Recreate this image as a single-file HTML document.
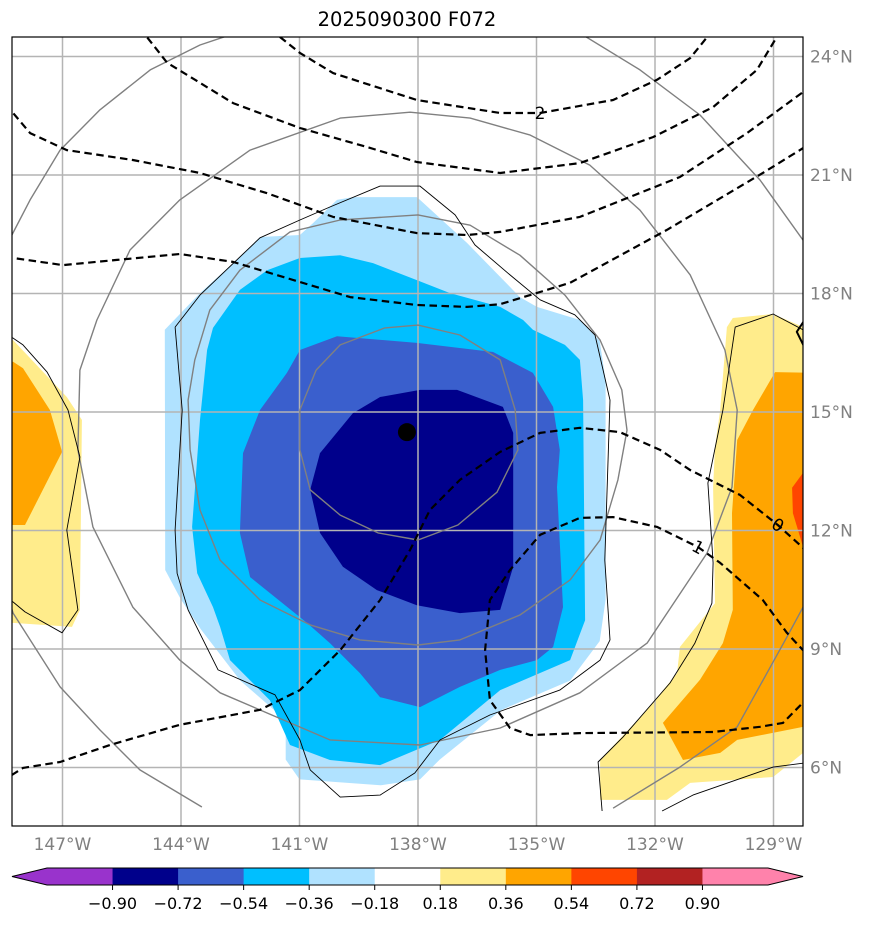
<!DOCTYPE html>
<html><head><meta charset="utf-8"><title>2025090300 F072</title>
<style>
html,body{margin:0;padding:0;background:#fff;}
body{width:873px;height:924px;overflow:hidden;font-family:"Liberation Sans","DejaVu Sans",sans-serif;}
svg text{font-family:"DejaVu Sans","Liberation Sans",sans-serif;}
</style></head>
<body>
<svg id="chart" width="873" height="924" viewBox="0 0 873 924" xmlns="http://www.w3.org/2000/svg">
<defs><clipPath id="mapclip"><rect x="12" y="37" width="791" height="789"/></clipPath></defs>
<text x="407" y="26" text-anchor="middle" font-size="19.5" fill="#000">2025090300 F072</text>
<g id="mapg" clip-path="url(#mapclip)"></g>
<rect x="12" y="37" width="791" height="789" fill="none" stroke="#000" stroke-width="1.2"/>
<g id="axes"></g>
<g id="cbar"></g>
</svg>
<script>
// ---- axis ticks ----
const lonTicks = [-147,-144,-141,-138,-135,-132,-129];
const lonTickLabels = ["147°W","144°W","141°W","138°W","135°W","132°W","129°W"];
const latTicks = [6,9,12,15,18,21,24];
const latTickLabels = ["6°N","9°N","12°N","15°N","18°N","21°N","24°N"];

// ---- filled regions (lon,lat pairs) ----
const fillLightBlue = [[-144.41,17.08],[-143.52,18.01],[-142.68,18.77],[-142.0,19.43],[-140.99,19.48],[-140.66,19.78],[-140.05,20.37],[-139.65,20.44],[-138.03,20.44],[-137.95,20.37],[-136.76,19.28],[-135.92,18.42],[-135.42,17.91],[-134.99,17.66],[-133.9,17.33],[-133.4,16.8],[-133.25,15.8],[-133.25,10.25],[-133.4,9.2],[-134.15,8.2],[-135.9,7.45],[-137.45,6.2],[-137.95,5.7],[-138.95,5.55],[-141.0,5.7],[-141.35,6.2],[-141.35,7.2],[-142.5,8.2],[-143.5,9.5],[-144.0,10.25],[-144.4,11.0]];
const fillDeepSky = [[-143.19,17.13],[-142.51,18.09],[-141.82,18.59],[-140.99,18.9],[-139.97,18.97],[-139.14,18.77],[-138.03,18.34],[-137.19,18.01],[-135.92,17.66],[-135.34,17.33],[-135.09,17.08],[-134.28,16.7],[-133.9,16.32],[-133.82,15.3],[-133.77,9.73],[-134.15,8.72],[-135.92,7.96],[-137.44,6.7],[-138.96,6.06],[-140.23,6.19],[-141.24,6.57],[-141.75,7.7],[-142.76,8.72],[-143.01,9.56],[-143.19,10.06],[-143.59,10.92],[-143.72,12.09],[-143.52,14.8],[-143.34,16.57]];
const fillRoyal = [[-140.99,16.57],[-140.05,16.92],[-138.03,16.75],[-136.1,16.52],[-135.09,15.99],[-134.58,15.13],[-134.41,14.04],[-134.48,13.1],[-134.33,10.06],[-134.58,9.05],[-134.99,8.72],[-135.92,8.47],[-136.94,8.04],[-137.95,7.53],[-138.96,7.78],[-139.47,8.39],[-140.23,9.15],[-140.81,9.66],[-142.25,10.82],[-142.51,11.94],[-142.43,13.96],[-142.0,15.05],[-141.32,15.99]];
const fillNavy = [[-137.95,15.56],[-137.01,15.56],[-135.85,15.13],[-135.59,14.47],[-135.59,11.08],[-135.92,9.99],[-136.94,9.91],[-138.03,10.11],[-139.04,10.49],[-139.9,11.08],[-140.48,11.94],[-140.73,13.03],[-140.48,13.96],[-139.65,14.97],[-138.96,15.38]];
const fillKhakiRight = [[-130.18,17.15],[-130.03,17.38],[-129.01,17.48],[-127.9,17.0],[-127.9,6.3],[-128.25,6.37],[-129.01,5.76],[-131.11,5.61],[-131.7,5.18],[-133.39,5.18],[-133.39,6.19],[-132.2,7.46],[-131.44,8.39],[-131.37,9.05],[-130.48,10.16],[-130.53,13.1],[-130.48,14.11],[-130.35,15.05]];
const fillOrangeRight = [[-128.96,16.01],[-127.9,15.99],[-127.9,7.1],[-128.25,7.03],[-129.92,6.7],[-130.35,6.37],[-131.29,6.19],[-131.8,7.13],[-130.86,8.22],[-130.28,9.15],[-130.03,9.99],[-130.05,12.44],[-129.92,14.29],[-129.52,15.05]];
const fillRedRight = [[-127.9,13.5],[-128.25,13.46],[-128.53,13.08],[-128.51,12.44],[-128.25,11.58],[-127.9,11.5]];
const fillKhakiLeft = [[-148.6,16.9],[-148.25,16.82],[-146.89,15.38],[-146.51,14.8],[-146.56,9.99],[-146.76,9.56],[-148.25,9.66],[-148.6,9.66]];
const fillOrangeLeft = [[-148.6,16.27],[-148.25,16.27],[-148.0,16.11],[-147.32,15.05],[-147.01,13.99],[-147.95,12.14],[-148.6,12.14]];

// ---- solid gray contours ----
const grayRing1 = [[-140.58,16.06],[-139.97,16.7],[-138.84,17.13],[-138,17.2],[-136.94,16.95],[-135.92,16.32],[-135.54,15.05],[-135.47,14.04],[-136.0,12.97],[-136.99,12.14],[-138,11.76],[-139.01,11.94],[-139.97,12.39],[-140.73,13.03],[-140.99,14.04],[-140.99,15.05],[-140.58,16.06]];
const grayRing2 = [[-143.77,14.04],[-143.82,15.3],[-143.65,16.32],[-143.27,17.58],[-142.51,18.59],[-141.24,19.56],[-139.97,19.86],[-138,19.99],[-136.68,19.73],[-135.42,18.97],[-134.28,17.96],[-133.39,16.82],[-132.84,15.56],[-132.71,14.54],[-132.94,13.28],[-133.39,11.76],[-134.15,10.75],[-135.42,9.86],[-136.94,9.23],[-138,9.1],[-139.47,9.23],[-140.73,9.61],[-142.0,10.24],[-143.01,11.25],[-143.52,12.52],[-143.77,14.04]];
const grayRing3 = [[-146.13,17.33],[-145.29,19.1],[-144.03,20.37],[-142.25,21.63],[-139.97,22.44],[-138.2,22.59],[-136.68,22.44],[-135.16,22.01],[-133.65,21.25],[-132.38,20.11],[-131.11,18.47],[-130.23,16.57],[-129.92,15.05],[-130.05,13.1],[-130.68,11.43],[-132.2,9.15],[-133.9,7.89],[-135.92,7.0],[-137.95,6.57],[-140.23,6.7],[-143.01,7.89],[-144.03,8.72],[-145.22,10.06],[-146.23,12.09],[-146.61,14.04],[-146.56,16.06],[-146.13,17.33]];
const grayRing4 = [[-143.47,5.0],[-145.04,5.94],[-146.05,6.95],[-147.06,8.04],[-148.25,9.91],[-148.84,11.76],[-149.09,15.3],[-148.71,18.09],[-148.28,19.48],[-147.82,20.37],[-147.06,21.63],[-146.05,22.65],[-144.78,23.66],[-143.52,24.29],[-142.0,24.8],[-138,25.18],[-134.03,24.67],[-132.38,23.66],[-130.86,22.52],[-129.34,20.87],[-128.25,19.35],[-127.57,16.57],[-127.44,13.53],[-128.25,10.06],[-128.66,9.3],[-129.92,7.03],[-131.37,6.01],[-133.06,4.97]];

// ---- thin black contours ----
const blackMain = [[-144.15,17.15],[-143.52,17.96],[-142.0,19.41],[-140.99,19.86],[-140.23,20.19],[-138.96,20.72],[-137.95,20.72],[-137.06,19.99],[-136.56,19.23],[-135.67,18.47],[-134.91,17.84],[-134.03,17.46],[-133.52,16.95],[-133.14,15.3],[-133.27,11.25],[-133.14,9.23],[-133.39,8.72],[-134.41,7.96],[-136.18,7.33],[-137.44,6.7],[-138.08,5.86],[-138.96,5.3],[-139.97,5.25],[-140.73,5.94],[-140.99,6.7],[-141.62,7.84],[-143.06,8.47],[-143.82,9.99],[-144.1,10.92],[-144.15,12.01],[-143.97,15.05],[-144.15,17.15]];
const blackRight = [[-127.9,17.2],[-128.25,17.08],[-129.01,17.48],[-129.97,17.15],[-130.28,15.05],[-130.66,13.2],[-130.53,11.18],[-130.56,10.16],[-130.99,9.15],[-131.62,8.14],[-132.81,6.77],[-133.44,6.14],[-133.34,4.9]];
const blackRightBottom = [[-131.82,4.9],[-131.04,5.3],[-129.01,6.01],[-128.25,6.11],[-127.9,6.15]];
const blackLeft = [[-148.6,17.0],[-148.25,16.87],[-148.0,16.7],[-147.39,16.01],[-146.86,15.05],[-146.56,13.86],[-146.89,12.01],[-146.61,9.99],[-147.01,9.41],[-147.95,9.94],[-148.25,10.19],[-148.6,10.4]];
const blackThick = [[-128.1,17.5],[-128.41,17.03],[-128.1,16.4]];

// ---- dashed contours ----
const dash1 = [[-141.7,24.72],[-141.49,24.49],[-140.99,24.09],[-140.15,23.58],[-138.03,22.9],[-135.92,22.57],[-134.91,22.57],[-133.06,22.9],[-131.95,23.41],[-131.11,23.96],[-130.68,24.49],[-130.56,24.72]];
const dash2 = [[-145.04,24.72],[-144.35,23.84],[-142.68,22.82],[-140.99,22.19],[-139.29,21.71],[-138.03,21.33],[-135.92,21.05],[-133.9,21.3],[-132.05,21.96],[-130.53,22.72],[-129.42,23.66],[-128.78,24.72]];
const dash3 = [[-148.46,22.77],[-148.25,22.57],[-147.82,22.06],[-146.89,21.63],[-145.22,21.38],[-143.52,21.05],[-141.82,20.54],[-140.15,19.94],[-138.03,19.53],[-136.76,19.48],[-135.92,19.56],[-133.9,19.94],[-131.37,20.95],[-129.67,22.06],[-128.25,23.1],[-127.95,23.3]];
const dash4 = [[-148.46,18.92],[-148.25,18.9],[-146.99,18.72],[-145.62,18.85],[-144.03,19.0],[-142.68,18.8],[-140.99,18.29],[-139.72,17.91],[-138.03,17.71],[-136.76,17.66],[-135.92,17.73],[-134.15,18.27],[-131.7,19.61],[-129.27,21.05],[-128.25,21.68],[-127.95,21.86]];
const dash5 = [[-148.58,5.73],[-148.28,5.81],[-148.0,5.99],[-147.06,6.14],[-145.8,6.57],[-144.03,7.08],[-142.0,7.46],[-140.99,7.96],[-139.97,8.97],[-138.96,10.24],[-138.2,11.51],[-137.7,12.52],[-136.94,13.28],[-135.92,13.99],[-134.91,14.47],[-133.9,14.6],[-132.89,14.49],[-131.87,14.04],[-131.11,13.53],[-129.85,12.9],[-128.89,12.14],[-128.25,11.56],[-127.95,11.35]];
const dash6 = [[-128.0,8.7],[-128.66,9.41],[-129.27,10.24],[-130.35,11.18],[-130.91,11.58],[-131.95,12.09],[-133.06,12.34],[-133.9,12.32],[-134.91,11.89],[-135.67,11.0],[-136.18,10.24],[-136.3,8.97],[-136.18,7.71],[-135.67,7.0],[-135.16,6.82],[-133.9,6.87],[-130.53,6.9],[-129.34,7.03],[-128.76,7.13],[-128.0,7.9]];
const contourLabels = ["2","0","1"];
const contourLabelLon = [-134.91,-128.89,-130.91];
const contourLabelLat = [22.57,12.14,11.58];
const contourLabelRot = [0,32,28];

const typhoonCenter = [-138.28,14.49];

// ---- colorbar ----
const cbarLevels = [-0.90,-0.72,-0.54,-0.36,-0.18,0.18,0.36,0.54,0.72,0.90];
const cbarLabels = ["\u22120.90","\u22120.72","\u22120.54","\u22120.36","\u22120.18","0.18","0.36","0.54","0.72","0.90"];
const cbarColors = ["#9933cc","#00008b","#3a5fcd","#00bfff","#b0e2ff","#ffffff","#ffec8b","#ffa500","#ff4500","#b22222","#ff82ab"];

// ---- axis functions ----
function xOf(lon){ return 418 + (lon + 138) * 39.5; }
function yOf(lat){ return 412 - (lat - 15) * 39.5; }
const NS = "http://www.w3.org/2000/svg";
function mk(tag, attrs, parent){
  const e = document.createElementNS(NS, tag);
  for (const k in attrs) e.setAttribute(k, attrs[k]);
  parent.appendChild(e);
  return e;
}
function pts(arr){ return arr.map(p => xOf(p[0]).toFixed(1) + "," + yOf(p[1]).toFixed(1)).join(" "); }

const mapg = document.getElementById("mapg");
function fillPoly(arr, color, name){
  const e = mk("polygon", {points: pts(arr), fill: color, stroke: "none"}, mapg);
  
  
}
fillPoly(fillLightBlue, "#b0e2ff", "fill-level-neg018");
fillPoly(fillDeepSky, "#00bfff", "fill-level-neg036");
fillPoly(fillRoyal, "#3a5fcd", "fill-level-neg054");
fillPoly(fillNavy, "#00008b", "fill-level-neg072");
fillPoly(fillKhakiRight, "#ffec8b", "fill-level-018-east");
fillPoly(fillOrangeRight, "#ffa500", "fill-level-036-east");
fillPoly(fillRedRight, "#ff4500", "fill-level-054-east");
fillPoly(fillKhakiLeft, "#ffec8b", "fill-level-018-west");
fillPoly(fillOrangeLeft, "#ffa500", "fill-level-036-west");

// grid
lonTicks.forEach(function(lon){
  const l = mk("line", {x1: xOf(lon), x2: xOf(lon), y1: 37, y2: 826, stroke: "#b4b4b4", "stroke-width": 1.5}, mapg);
  
  
});
latTicks.forEach(function(lat){
  const l = mk("line", {x1: 12, x2: 803, y1: yOf(lat), y2: yOf(lat), stroke: "#b4b4b4", "stroke-width": 1.5}, mapg);
  
  
});

function line(arr, color, w, dash, name){
  const attrs = {points: pts(arr), fill: "none", stroke: color, "stroke-width": w, "stroke-linejoin": "round"};
  if (dash) attrs["stroke-dasharray"] = dash;
  const e = mk("polyline", attrs, mapg);
  
  
}
line(grayRing1, "#808080", 1.4, null, "gray-contour-inner");
line(grayRing2, "#808080", 1.4, null, "gray-contour-2");
line(grayRing3, "#808080", 1.4, null, "gray-contour-3");
line(grayRing4, "#808080", 1.4, null, "gray-contour-outer");
line(blackMain, "#000", 0.9, null, "black-contour-main");
line(blackRight, "#000", 0.9, null, "black-contour-east");
line(blackRightBottom, "#000", 0.9, null, "black-contour-east-bottom");
line(blackLeft, "#000", 0.9, null, "black-contour-west");
line(blackThick, "#000", 2, null, "black-contour-thick");
[dash1, dash2, dash3, dash4, dash5, dash6].forEach(function(d, i){
  line(d, "#000", 2.2, "7.5,4.5", "dashed-contour-" + (i + 1));
});
contourLabels.forEach(function(t, i){
  const x = xOf(contourLabelLon[i]), y = yOf(contourLabelLat[i]);
  const tx = mk("text", {x: x, y: y + 6, "text-anchor": "middle", "font-size": 17, fill: "#000",
    transform: "rotate(" + contourLabelRot[i] + " " + x + " " + y + ")"}, mapg);
  tx.textContent = t;
  
  
});
const dot = mk("circle", {cx: xOf(typhoonCenter[0]), cy: yOf(typhoonCenter[1]), r: 9, fill: "#000"}, mapg);



// tick labels
const axes = document.getElementById("axes");
lonTicks.forEach(function(lon, i){
  const t = mk("text", {x: xOf(lon), y: 850, "text-anchor": "middle", "font-size": 17, fill: "#808080"}, axes);
  t.textContent = lonTickLabels[i];
  
  
});
latTicks.forEach(function(lat, i){
  const t = mk("text", {x: 810, y: yOf(lat) + 6, "text-anchor": "start", "font-size": 17, fill: "#808080"}, axes);
  t.textContent = latTickLabels[i];
  
  
});

// colorbar
const cb = document.getElementById("cbar");
const cbX0 = 47, cbX1 = 768, cbY0 = 868, cbY1 = 885;
const nBox = cbarColors.length;
const boxW = (cbX1 - cbX0) / nBox;
cbarColors.forEach(function(c, i){
  const r = mk("rect", {x: cbX0 + i * boxW, y: cbY0, width: boxW + 0.5, height: cbY1 - cbY0, fill: c}, cb);
  
  
});
const lt = mk("polygon", {points: "12,876.5 " + cbX0 + "," + cbY0 + " " + cbX0 + "," + cbY1, fill: cbarColors[0]}, cb);


const rt = mk("polygon", {points: cbX1 + "," + cbY0 + " 803,876.5 " + cbX1 + "," + cbY1, fill: cbarColors[nBox - 1]}, cb);


const outline = mk("polygon", {points: "12,876.5 " + cbX0 + "," + cbY0 + " " + cbX1 + "," + cbY0 + " 803,876.5 " + cbX1 + "," + cbY1 + " " + cbX0 + "," + cbY1, fill: "none", stroke: "#000", "stroke-width": 1}, cb);


cbarLevels.forEach(function(v, i){
  const x = cbX0 + (i + 1) * boxW;
  const tk = mk("line", {x1: x, x2: x, y1: cbY1, y2: cbY1 + 5, stroke: "#000", "stroke-width": 1}, cb);
  
  
  const t = mk("text", {x: x, y: 909, "text-anchor": "middle", "font-size": 16, fill: "#000"}, cb);
  t.textContent = cbarLabels[i];
  
  
});
</script>
</body></html>
